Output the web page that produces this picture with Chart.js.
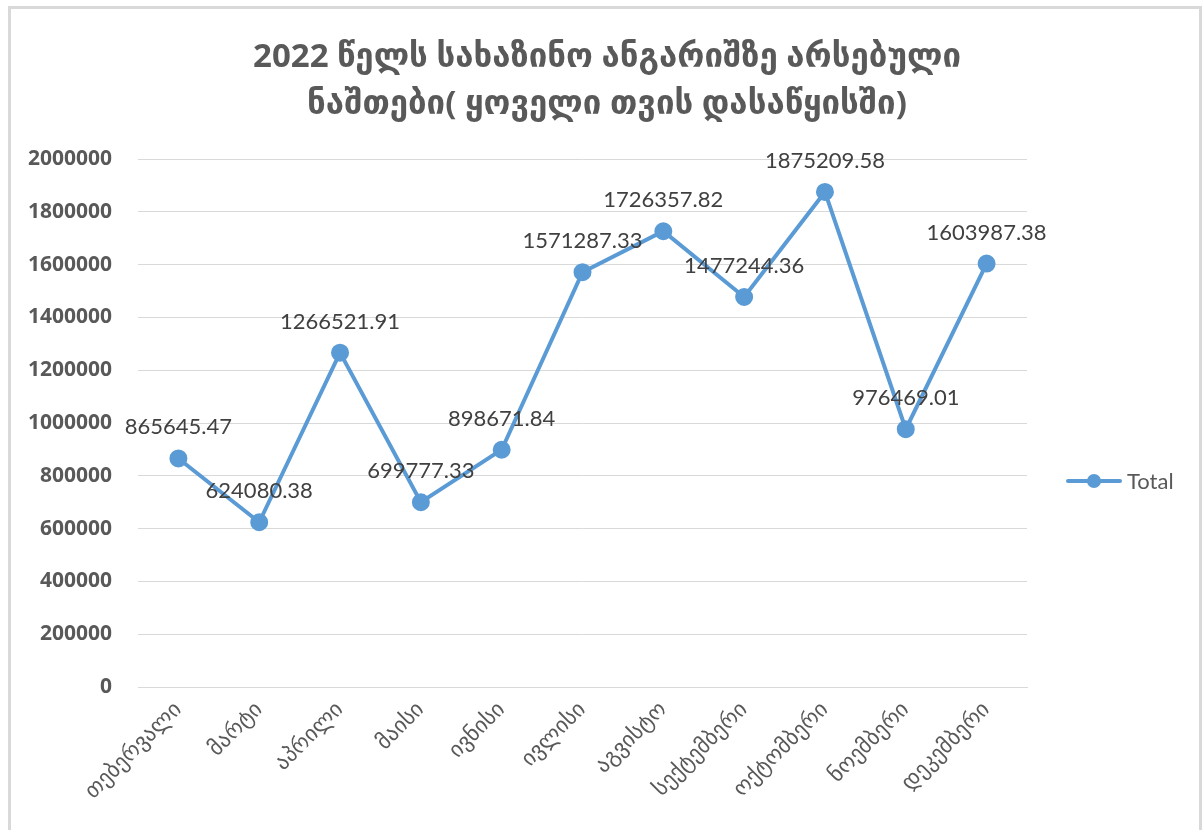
<!DOCTYPE html>
<html>
<head>
<meta charset="utf-8">
<script src="https://cdn.jsdelivr.net/npm/chart.js@4.4.0/dist/chart.umd.min.js"></script>
<style>
html,body{margin:0;padding:0;background:#fff;}
#wrap{width:1202px;height:830px;position:relative;}
</style>
</head>
<body>
<div id="wrap"><canvas id="c" width="1202" height="830"></canvas></div>
<script>
const titleLines = ["2022 წელს სახაზინო ანგარიშზე არსებული", "ნაშთები( ყოველი თვის დასაწყისში)"];
const categories = ["თებერვალი","მარტი","აპრილი","მაისი","ივნისი","ივლისი","აგვისტო","სექტემბერი","ოქტომბერი","ნოემბერი","დეკემბერი"];
const totals = [865645.47, 624080.38, 1266521.91, 699777.33, 898671.84, 1571287.33, 1726357.82, 1477244.36, 1875209.58, 976469.01, 1603987.38];
const seriesName = "Total";
const yMin = 0, yMax = 2000000, yStep = 200000;

const FONT = "Lato, 'Open Sans', 'DejaVu Sans', sans-serif";
const GEO = "'DejaVu Sans', sans-serif";
const BLUE = "#5b9bd5";

const customDraw = {
  id: 'customDraw',
  beforeDraw(chart) {
    const ctx = chart.ctx;
    ctx.save();
    ctx.fillStyle = '#fff';
    ctx.fillRect(0, 0, chart.width, chart.height);
    ctx.strokeStyle = '#d9d9d9';
    ctx.lineWidth = 3;
    ctx.beginPath();
    ctx.moveTo(9.5, 830);
    ctx.lineTo(9.5, 7.5);
    ctx.lineTo(1200.5, 7.5);
    ctx.lineTo(1200.5, 830);
    ctx.stroke();
    // title
    ctx.fillStyle = '#595959';
    ctx.textAlign = 'center';
    ctx.textBaseline = 'middle';
    ctx.font = "bold 33px " + "'Open Sans', 'DejaVu Sans', sans-serif";
    ctx.fillText(titleLines[0], 607, 58);
    ctx.fillText(titleLines[1], 607, 105);
    ctx.restore();
  },
  afterDatasetsDraw(chart) {
    const ctx = chart.ctx;
    const meta = chart.getDatasetMeta(0);
    ctx.save();
    ctx.fillStyle = '#404040';
    ctx.font = "22px " + FONT;
    ctx.textAlign = 'center';
    ctx.textBaseline = 'alphabetic';
    meta.data.forEach((pt, i) => {
      const v = chart.data.datasets[0].data[i];
      ctx.fillText(v.toFixed(2), pt.x, pt.y - 24);
    });
    // legend
    const lx = 1068, ly = 481;
    ctx.strokeStyle = BLUE;
    ctx.lineWidth = 4;
    ctx.lineCap = 'round';
    ctx.beginPath();
    ctx.moveTo(lx, ly);
    ctx.lineTo(lx + 52, ly);
    ctx.stroke();
    ctx.fillStyle = BLUE;
    ctx.beginPath();
    ctx.arc(lx + 26, ly, 7, 0, Math.PI * 2);
    ctx.fill();
    ctx.fillStyle = '#595959';
    ctx.font = "22px " + FONT;
    ctx.textAlign = 'left';
    ctx.textBaseline = 'middle';
    ctx.fillText(seriesName, lx + 59, ly + 1);
    ctx.restore();
  }
};

new Chart(document.getElementById('c'), {
  type: 'line',
  data: {
    labels: categories,
    datasets: [{
      label: seriesName,
      data: totals,
      borderColor: BLUE,
      backgroundColor: BLUE,
      borderWidth: 4,
      pointRadius: 7,
      pointHoverRadius: 7,
      pointBackgroundColor: BLUE,
      pointBorderColor: BLUE,
      tension: 0
    }]
  },
  options: {
    responsive: false,
    animation: false,
    events: [],
    layout: { padding: { top: 159, right: 175, bottom: 0, left: 0 } },
    plugins: {
      legend: { display: false },
      title: { display: false },
      tooltip: { enabled: false }
    },
    scales: {
      x: {
        offset: true,
        grid: { display: false, drawTicks: false },
        border: { display: true, color: '#d9d9d9', width: 1 },
        ticks: {
          color: '#595959',
          font: { size: 22, family: GEO },
          minRotation: 45, maxRotation: 45,
          padding: 10,
          autoSkip: false
        },
        afterFit(scale) { scale.height = 143; }
      },
      y: {
        min: yMin, max: yMax,
        grid: { color: '#d9d9d9', drawTicks: false },
        border: { display: false },
        ticks: {
          stepSize: yStep,
          color: '#595959',
          font: { size: 21, weight: 'bold', family: "'Open Sans', sans-serif" },
          padding: 26,
          callback: v => String(v)
        },
        afterFit(scale) { scale.width = 138; }
      }
    }
  },
  plugins: [customDraw]
});
</script>
</body>
</html>
